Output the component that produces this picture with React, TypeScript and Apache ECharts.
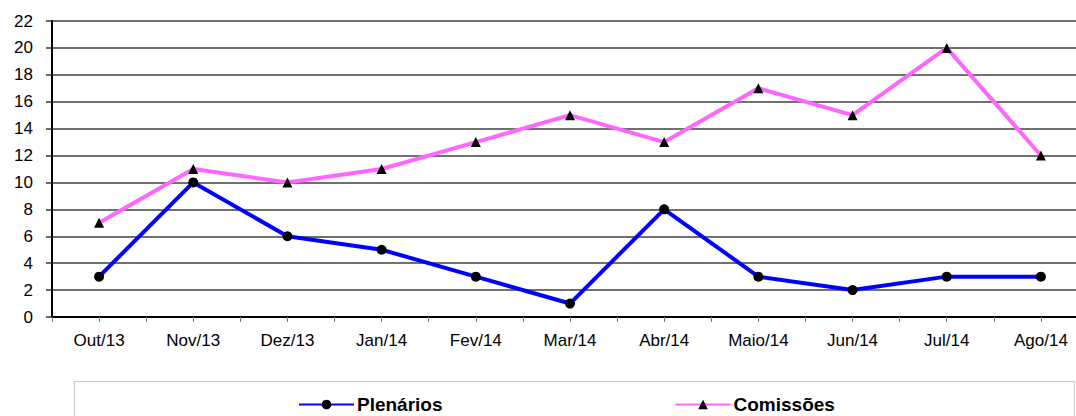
import React, { useEffect, useRef } from "react";
import * as echarts from "echarts";

const categories = ["Out/13", "Nov/13", "Dez/13", "Jan/14", "Fev/14", "Mar/14", "Abr/14", "Maio/14", "Jun/14", "Jul/14", "Ago/14"];
const plenarios = [3, 10, 6, 5, 3, 1, 8, 3, 2, 3, 3];
const comissoes = [7, 11, 10, 11, 13, 15, 13, 17, 15, 20, 12];
const yMin = 0;
const yMax = 22;
const yInterval = 2;

export default function App() {
  const ref = useRef<HTMLDivElement>(null);
  useEffect(() => {
    if (!ref.current) return;
    const chart = echarts.init(ref.current, null, { renderer: "svg" });
    const font = "Arial, 'Liberation Sans', sans-serif";
    chart.setOption({
      animation: false,
      backgroundColor: "#ffffff",
      grid: { left: 52, top: 21, width: 1036, height: 296, containLabel: false },
      xAxis: [
        {
          type: "category",
          data: categories,
          position: "bottom",
          boundaryGap: true,
          axisLine: { show: true, lineStyle: { color: "#000", width: 2 } },
          axisTick: { show: true, alignWithLabel: true, length: 5, lineStyle: { color: "#777", width: 1 } },
          axisLabel: { color: "#000", fontSize: 17, fontFamily: font, margin: 15 },
          splitLine: { show: false },
        },
        {
          type: "category",
          data: categories,
          position: "bottom",
          offset: 0,
          boundaryGap: true,
          axisLine: { show: false },
          axisTick: { show: true, length: 5, lineStyle: { color: "#777", width: 1 } },
          axisLabel: { show: false },
          splitLine: { show: false },
        },
      ],
      yAxis: {
        type: "value",
        min: yMin,
        max: yMax,
        interval: yInterval,
        axisLine: { show: true, lineStyle: { color: "#000", width: 2 } },
        axisTick: { show: true, length: 6, lineStyle: { color: "#333", width: 1.5 } },
        axisLabel: { color: "#000", fontSize: 17, fontFamily: font, margin: 19 },
        splitLine: { show: true, lineStyle: { color: "#404040", width: 1.5 } },
      },
      legend: {
        left: 293,
        top: 390,
        itemWidth: 55,
        itemHeight: 12,
        itemGap: 232,
        textStyle: { fontSize: 19, fontWeight: "bold", fontFamily: font, color: "#000", padding: [0, 0, 0, -2] },
        data: ["Plenários", "Comissões"],
      },
      graphic: [
        {
          type: "rect",
          shape: { x: 74.5, y: 381.5, width: 1000, height: 60 },
          style: { fill: "none", stroke: "#c8c8c8", lineWidth: 1 },
          z: -1,
        },
      ],
      series: [
        {
          name: "Plenários",
          type: "line",
          data: plenarios,
          symbol: "circle",
          symbolSize: 10,
          lineStyle: { color: "#0000ff", width: 4 },
          itemStyle: { color: "#000" },
          z: 3,
        },
        {
          name: "Comissões",
          type: "line",
          data: comissoes,
          symbol: "triangle",
          symbolSize: 10,
          lineStyle: { color: "#ff66ff", width: 4 },
          itemStyle: { color: "#000" },
          z: 4,
        },
      ],
    });
    return () => chart.dispose();
  }, []);
  return (
    <div style={{ position: "fixed", left: 0, top: 0, width: 1076, height: 416, overflow: "hidden" }}>
      <div ref={ref} style={{ position: "absolute", left: 0, top: 0, width: 1100, height: 416 }} />
    </div>
  );
}
